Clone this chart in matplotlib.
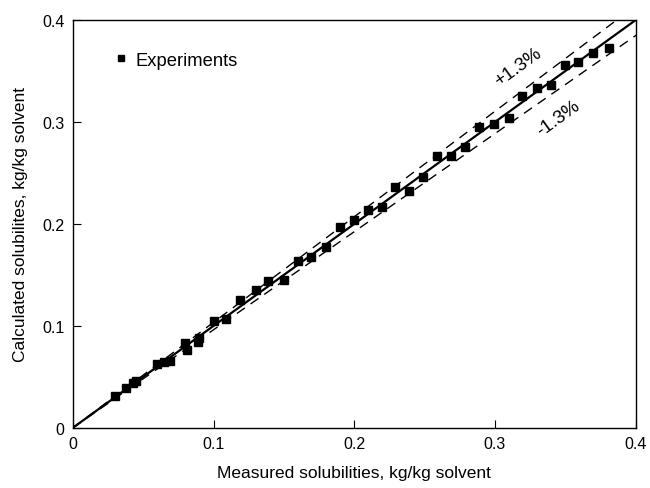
import numpy as np
import matplotlib.pyplot as plt

plt.rcParams['font.family'] = ['Liberation Sans', 'DejaVu Sans']

measured = [0.030, 0.038, 0.043, 0.045, 0.060, 0.065, 0.069, 0.080, 0.081, 0.089, 0.090,
            0.100, 0.109, 0.119, 0.130, 0.139, 0.150, 0.160, 0.169, 0.180, 0.190,
            0.200, 0.210, 0.220, 0.229, 0.239, 0.249, 0.259, 0.269, 0.279, 0.289,
            0.299, 0.310, 0.319, 0.330, 0.340, 0.350, 0.359, 0.370, 0.381]
calculated = [0.031, 0.039, 0.044, 0.046, 0.063, 0.065, 0.066, 0.083, 0.076, 0.084, 0.088,
              0.105, 0.107, 0.125, 0.135, 0.144, 0.145, 0.164, 0.168, 0.177, 0.197,
              0.204, 0.214, 0.217, 0.236, 0.232, 0.246, 0.267, 0.267, 0.275, 0.295,
              0.298, 0.304, 0.325, 0.333, 0.336, 0.356, 0.359, 0.368, 0.373]

upper_factor = 1.035
lower_factor = 0.962

fig = plt.figure(figsize=(6.5, 4.89), dpi=100)
ax = fig.add_axes([0.112, 0.123, 0.866, 0.834])

xx = np.array([0, 0.4])
ax.plot(xx, xx, color='black', lw=1.6, zorder=2)
ax.plot(xx * 1.2, xx * 1.2 * upper_factor, color='black', lw=1.0, ls=(0, (7, 5)), zorder=2)
ax.plot(xx * 1.2, xx * 1.2 * lower_factor, color='black', lw=1.0, ls=(0, (7, 5)), zorder=2)
ax.plot(measured, calculated, 's', color='black', ms=5.5, label='Experiments', zorder=3)

ax.set_xlim(0, 0.4)
ax.set_ylim(0, 0.4)
ax.set_xticks([0, 0.1, 0.2, 0.3, 0.4])
ax.set_yticks([0, 0.1, 0.2, 0.3, 0.4])
ax.set_xticklabels(['0', '0.1', '0.2', '0.3', '0.4'])
ax.set_yticklabels(['0', '0.1', '0.2', '0.3', '0.4'])
ax.tick_params(direction='in', length=6, labelsize=11.5, pad=6)

ax.set_xlabel('Measured solubilities, kg/kg solvent', fontsize=12.5, labelpad=10)
ax.set_ylabel('Calculated solubilites, kg/kg solvent', fontsize=12.5, labelpad=10)

ax.text(0.3165, 0.354, '+1.3%', rotation=36, fontsize=13.5, ha='center', va='center')
ax.text(0.345, 0.304, '-1.3%', rotation=36, fontsize=13.5, ha='center', va='center')

ax.legend(loc='upper left', bbox_to_anchor=(0.062, 0.94), frameon=False,
          handlelength=0.6, handletextpad=0.5, fontsize=13.2, markerscale=0.8,
          borderaxespad=0)

for s in ax.spines.values():
    s.set_linewidth(1.0)

fig.savefig('out.png', dpi=100)
